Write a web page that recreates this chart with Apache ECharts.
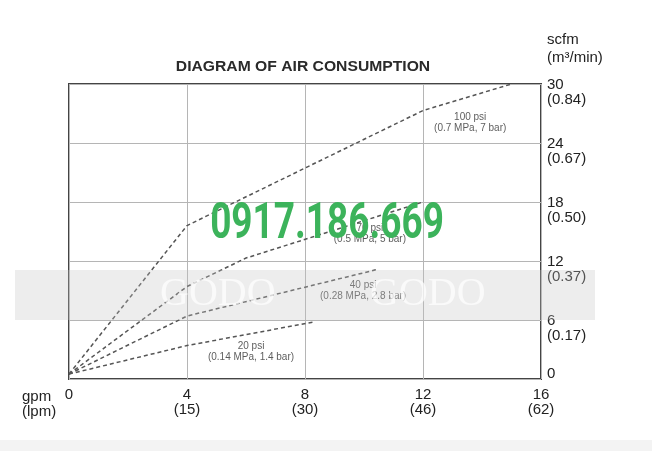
<!DOCTYPE html>
<html>
<head>
<meta charset="utf-8">
<script src="https://cdn.jsdelivr.net/npm/echarts@6/dist/echarts.min.js"></script>
<style>html,body{margin:0;padding:0;background:#fff}#c{width:652px;height:451px}</style>
</head>
<body>
<div id="c"></div>
<script>
// ---- data ----
var titleText = 'DIAGRAM OF AIR CONSUMPTION';
var gpmTicks = [0, 4, 8, 12, 16];
var lpmTicks = ['', '(15)', '(30)', '(46)', '(62)'];
var scfmTicks = [0, 6, 12, 18, 24, 30];
var m3Ticks = ['', '(0.17)', '(0.37)', '(0.50)', '(0.67)', '(0.84)'];
var psi100 = [[0, 0.5], [4, 15.6], [12, 27.3], [15, 30]];
var psi70 = [[0, 0.5], [4, 9.4], [6, 12.3], [12, 18]];
var psi40 = [[0, 0.5], [4, 6.4], [10.4, 11.1]];
var psi20 = [[0, 0.5], [4, 3.4], [8.3, 5.8]];
var lineNames = ['100 psi', '70 psi', '40 psi', '20 psi'];
var lineSubs = ['(0.7 MPa, 7 bar)', '(0.5 MPa, 5 bar)', '(0.28 MPa, 2.8 bar)', '(0.14 MPa, 1.4 bar)'];
var labelAt = [[13.6, 26.1], [10.2, 14.8], [9.97, 8.95], [6.17, 2.75]];

var chart = echarts.init(document.getElementById('c'));
var font = 'Liberation Sans, Arial, sans-serif';
var lineStyle = {color: '#555', width: 1.5, type: [4, 3]};
function mk(name, d) {
  return {name: name, type: 'line', data: d, symbol: 'none', lineStyle: lineStyle, z: 3, silent: true};
}
var labelData = labelAt.map(function (p, i) {
  return {value: p, name: lineNames[i] + '\n' + lineSubs[i]};
});

chart.setOption({
  animation: false,
  backgroundColor: '#fff',
  grid: {left: 69, right: 111, top: 84, bottom: 72, show: true, borderColor: '#444', borderWidth: 2, backgroundColor: 'transparent'},
  xAxis: {
    type: 'value', min: 0, max: 16, interval: 4,
    axisLine: {show: false}, axisTick: {show: false},
    splitLine: {show: true, lineStyle: {color: '#b5b5b5', width: 1}},
    axisLabel: {
      margin: 8, fontFamily: font, fontSize: 15, color: '#222', lineHeight: 15,
      formatter: function (v) { var i = gpmTicks.indexOf(v); return i > 0 ? v + '\n' + lpmTicks[i] : String(v); }
    }
  },
  yAxis: {
    type: 'value', position: 'right', min: 0, max: 30, interval: 6,
    axisLine: {show: false}, axisTick: {show: false},
    splitLine: {show: true, lineStyle: {color: '#b5b5b5', width: 1}},
    axisLabel: {
      margin: 6, fontFamily: font, fontSize: 15, color: '#222', align: 'left', verticalAlign: 'top',
      formatter: function (v) { var i = scfmTicks.indexOf(v); return i > 0 ? '{a|' + v + '}\n{b|' + m3Ticks[i] + '}' : '{z|' + v + '}'; },
      rich: {
        a: {fontFamily: font, fontSize: 15, color: '#222', lineHeight: 2},
        b: {fontFamily: font, fontSize: 15, color: '#222', lineHeight: 27},
        z: {fontFamily: font, fontSize: 15, color: '#222', lineHeight: 2, padding: [0, 0, 12, 0]}
      }
    }
  },
  series: [
    mk(lineNames[0], psi100), mk(lineNames[1], psi70), mk(lineNames[2], psi40), mk(lineNames[3], psi20),
    {
      type: 'scatter', data: labelData, symbolSize: 0, silent: true, z: 4,
      label: {show: true, position: 'inside', formatter: function (p) { return p.name; },
        fontFamily: font, fontSize: 10, color: '#333', lineHeight: 11, align: 'center'}
    }
  ],
  graphic: [
    {type: 'text', x: 303, y: 67, z: 10, scaleX: 1.12, style: {text: titleText, fill: '#2a2a2a', font: 'bold 14px ' + font, textAlign: 'center', verticalAlign: 'middle'}},
    {type: 'text', x: 22, y: 389, style: {text: 'gpm\n(lpm)', fill: '#222', font: '15px ' + font, lineHeight: 15}},
    {type: 'text', x: 547, y: 31, style: {text: 'scfm\n(m\u00b3/min)', fill: '#222', font: '15px ' + font, lineHeight: 18}},
    {type: 'rect', shape: {x: 15, y: 270, width: 580, height: 50}, style: {fill: 'rgba(195,195,195,0.3)'}, z: 20, silent: true},
    {type: 'text', x: 160, y: 274, z: 21, style: {text: 'GODO', fill: 'rgba(255,255,255,0.7)', font: '40px Liberation Serif, serif'}},
    {type: 'text', x: 370, y: 274, z: 21, style: {text: 'GODO', fill: 'rgba(255,255,255,0.7)', font: '40px Liberation Serif, serif'}},
    {type: 'text', x: 327, y: 225, z: 22, scaleX: 0.74, style: {text: '0917.186.669', fill: '#3cb35b', font: 'bold 50px Roboto, sans-serif', textAlign: 'center', verticalAlign: 'middle'}},
    {type: 'rect', shape: {x: 0, y: 440, width: 652, height: 11}, style: {fill: '#f3f3f3'}, z: 0}
  ]
});
</script>
</body>
</html>
